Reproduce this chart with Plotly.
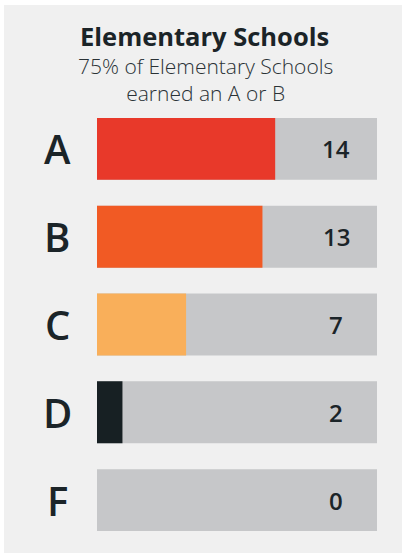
import plotly.graph_objects as go

# ---- data ----
grades = ["A", "B", "C", "D", "F"]
counts = [14, 13, 7, 2, 0]
scale_max = [22, 22, 22, 22, 22]
bar_colors = ["#e8392a", "#f15a24", "#f9af5a", "#172023", "#c6c7c9"]
title_text = "Elementary Schools"
subtitle_text = "75% of Elementary Schools<br>earned an A or B"

TEXT = "#1b2428"
FONT = "Open Sans"

W, H = 403, 554
L, R, T, B = 97, 26, 105, 10
PW, PH = W - L - R, H - T - B


def px_x(p):
    return (p - L) / PW


def px_y(p):
    return (H - B - p) / PH


fig = go.Figure()
fig.add_trace(go.Bar(
    y=grades, x=scale_max, orientation="h", marker=dict(color="#c6c7c9", line=dict(width=0)),
    width=0.705, hoverinfo="skip", showlegend=False,
))
fig.add_trace(go.Bar(
    y=grades, x=counts, orientation="h", marker=dict(color=bar_colors, line=dict(width=0)),
    width=0.705, showlegend=False,
))

annotations = []
for g, c in zip(grades, counts):
    annotations.append(dict(
        x=px_x(57), xref="paper", y=g, yref="y", text=g, showarrow=False,
        xanchor="center", yanchor="middle",
        font=dict(family=FONT, size=40, color=TEXT, weight=600),
    ))
    annotations.append(dict(
        x=px_x(336), xref="paper", y=g, yref="y", text=str(c), showarrow=False,
        xanchor="center", yanchor="middle",
        font=dict(family=FONT, size=24, color=TEXT, weight=600),
    ))
annotations.append(dict(
    x=px_x(204.5), xref="paper", y=px_y(35.5), yref="paper", text=title_text, showarrow=False,
    xanchor="center", yanchor="middle", borderpad=0,
    font=dict(family=FONT, size=25.5, color=TEXT, weight=700),
))
annotations.append(dict(
    x=px_x(205), xref="paper", y=px_y(79), yref="paper", text=subtitle_text, showarrow=False,
    xanchor="center", yanchor="middle", borderpad=0,
    font=dict(family=FONT, size=21, color="#2a3236", weight=300),
))

fig.update_layout(
    width=W, height=H,
    margin=dict(l=L, r=R, t=T, b=B, pad=0),
    paper_bgcolor="white", plot_bgcolor="rgba(0,0,0,0)",
    barmode="overlay",
    xaxis=dict(range=[0, 22], visible=False, fixedrange=True),
    yaxis=dict(categoryorder="array", categoryarray=grades[::-1], visible=False, fixedrange=True),
    annotations=annotations,
    shapes=[dict(
        type="rect", xref="paper", yref="paper", layer="below",
        x0=px_x(4), x1=px_x(402), y0=px_y(553), y1=px_y(5),
        fillcolor="#f0f0f0", line=dict(width=0),
    )],
)

fig.write_html("out.html", config={"displayModeBar": False},
               post_script="document.body.style.margin='0';")
